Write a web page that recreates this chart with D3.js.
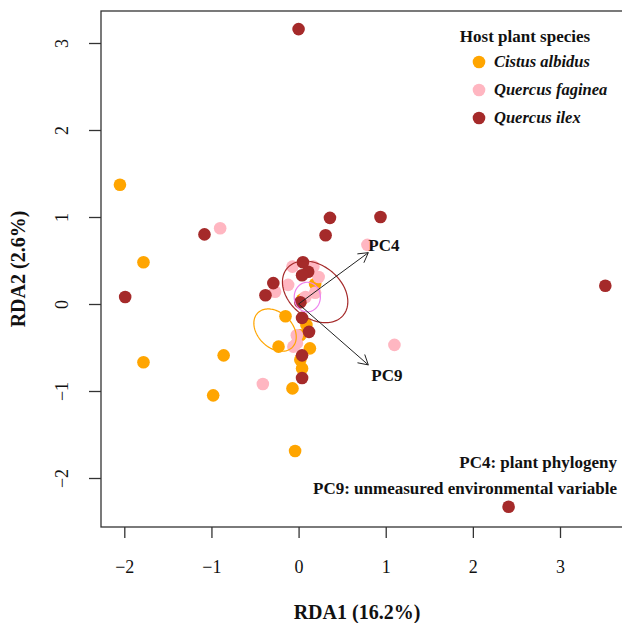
<!DOCTYPE html>
<html>
<head>
<meta charset="utf-8">
<script src="https://cdn.jsdelivr.net/npm/d3@7"></script>
<style>
  body { margin: 0; background: #fff; }
  svg { display: block; font-family: "Liberation Serif", "Times New Roman", serif; }
</style>
</head>
<body>
<svg id="chart" width="622" height="623"></svg>
<script>
// RDA biplot - host plant species

const species = ["Cistus albidus", "Quercus faginea", "Quercus ilex"];
const speciesColors = ["#FFA500", "#FFB6C1", "#A52A2A"];
const ellipseColors = ["#FFA500", "#EE82EE", "#A52A2A"];

const xTicks = [-2, -1, 0, 1, 2, 3];
const yTicks = [-2, -1, 0, 1, 2, 3];

// site scores, one array per species [RDA1, RDA2]
const cistusPoints = [
    [-2.05, 1.37], [-1.78, 0.48], [-1.78, -0.67], [-0.86, -0.59], [-0.98, -1.05],
    [-0.04, -1.69], [-0.07, -0.97], [-0.23, -0.49], [-0.15, -0.14], [0.13, -0.51],
    [0.04, -0.74], [0.02, -0.64], [0.04, 0.05], [0.19, 0.23], [0.02, -0.36],
    [0.09, -0.24]
];
const faginePoints = [
    [-0.90, 0.87], [-0.41, -0.92], [0.79, 0.68], [1.10, -0.47], [-0.07, 0.43],
    [0.17, 0.43], [-0.12, 0.22], [-0.27, 0.14], [0.19, 0.13], [0.08, 0.08],
    [-0.02, -0.45], [-0.06, -0.49], [0.23, 0.31], [-0.02, -0.36]
];
const ilexPoints = [
    [0.00, 3.16], [-1.99, 0.08], [-1.08, 0.80], [0.36, 0.99], [0.94, 1.00],
    [0.31, 0.79], [3.52, 0.21], [2.41, -2.33], [0.05, 0.48], [0.11, 0.37],
    [0.04, 0.33], [-0.29, 0.24], [-0.38, 0.10], [0.04, -0.16], [0.12, -0.32],
    [0.04, -0.59], [0.04, -0.85], [0.02, 0.02]
];

// ordiellipse per species: centre x, centre y, semi axis a, semi axis b, angle (deg)
const ellipseCx = [-0.27, 0.10, 0.19];
const ellipseCy = [-0.30, 0.08, 0.14];
const ellipseA = [0.28, 0.17, 0.42];
const ellipseB = [0.20, 0.15, 0.30];
const ellipseAngle = [-45, 90, -40];

// constraining variables (biplot arrows)
const arrowNames = ["PC4", "PC9"];
const arrowX = [0.80, 0.80];
const arrowY = [0.59, -0.70];

const notes = ["PC4: plant phylogeny", "PC9: unmeasured environmental variable"];

const svg = d3.select("#chart");

// plot region (R draws the frame, right side goes past the image)
const box = { left: 101, top: 11, right: 640, bottom: 527 };

const x = d3.scaleLinear()
    .domain([-2, 3])
    .range([124.3, 560]);

const y = d3.scaleLinear()
    .domain([-2, 3])
    .range([478, 43]);

// frame
svg.append("rect")
    .attr("x", box.left)
    .attr("y", box.top)
    .attr("width", box.right - box.left)
    .attr("height", box.bottom - box.top)
    .attr("fill", "none")
    .attr("stroke", "#333")
    .attr("stroke-width", 1.3);

// x axis
const xAxis = svg.append("g")
    .attr("transform", `translate(0,${box.bottom})`)
    .call(d3.axisBottom(x).tickValues(xTicks).tickSize(11).tickFormat(d3.format("d")));
xAxis.select(".domain").remove();
xAxis.selectAll(".tick line").attr("stroke", "#333").attr("stroke-width", 1.3);
xAxis.selectAll(".tick text")
    .attr("y", 33)
    .attr("font-family", "Liberation Serif")
    .attr("font-size", 18)
    .attr("fill", "#111");

// y axis, labels rotated like R (las = 0)
const yAxis = svg.append("g")
    .attr("transform", `translate(${box.left},0)`)
    .call(d3.axisLeft(y).tickValues(yTicks).tickSize(12).tickFormat(d3.format("d")));
yAxis.select(".domain").remove();
yAxis.selectAll(".tick line").attr("stroke", "#333").attr("stroke-width", 1.3);
yAxis.selectAll(".tick text")
    .attr("x", null)
    .attr("dy", null)
    .attr("text-anchor", "middle")
    .attr("transform", "translate(-33,0) rotate(-90)")
    .attr("font-family", "Liberation Serif")
    .attr("font-size", 18)
    .attr("fill", "#111");

// axis titles
svg.append("text")
    .attr("x", 357)
    .attr("y", 619)
    .attr("text-anchor", "middle")
    .attr("font-weight", "bold")
    .attr("font-size", 20)
    .attr("fill", "#111")
    .text("RDA1 (16.2%)");

svg.append("text")
    .attr("transform", `translate(25,${(box.top + box.bottom) / 2}) rotate(-90)`)
    .attr("text-anchor", "middle")
    .attr("font-weight", "bold")
    .attr("font-size", 20)
    .attr("fill", "#111")
    .text("RDA2 (2.6%)");

// points
const allPoints = [cistusPoints, faginePoints, ilexPoints];
allPoints.forEach((pts, i) => {
    svg.append("g")
        .selectAll("circle")
        .data(pts)
        .join("circle")
        .attr("cx", d => x(d[0]))
        .attr("cy", d => y(d[1]))
        .attr("r", 6.3)
        .attr("fill", speciesColors[i]);
});

// ellipses
const line = d3.line().curve(d3.curveLinearClosed);
species.forEach((s, i) => {
    const th = ellipseAngle[i] * Math.PI / 180;
    const pts = d3.range(0, 2 * Math.PI, Math.PI / 60).map(t => {
        const ex = ellipseCx[i] + ellipseA[i] * Math.cos(t) * Math.cos(th) - ellipseB[i] * Math.sin(t) * Math.sin(th);
        const ey = ellipseCy[i] + ellipseA[i] * Math.cos(t) * Math.sin(th) + ellipseB[i] * Math.sin(t) * Math.cos(th);
        return [x(ex), y(ey)];
    });
    svg.append("path")
        .attr("d", line(pts))
        .attr("fill", "none")
        .attr("stroke", ellipseColors[i])
        .attr("stroke-width", 1.2);
});

// arrows
arrowNames.forEach((name, i) => {
    const x0 = x(0), y0 = y(0);
    const x1 = x(arrowX[i]), y1 = y(arrowY[i]);
    const ang = Math.atan2(y1 - y0, x1 - x0);
    const len = 11, spread = Math.PI / 6;
    svg.append("line")
        .attr("x1", x0).attr("y1", y0)
        .attr("x2", x1).attr("y2", y1)
        .attr("stroke", "#222")
        .attr("stroke-width", 1);
    svg.append("path")
        .attr("d", `M${x1 - len * Math.cos(ang - spread)},${y1 - len * Math.sin(ang - spread)}
                    L${x1},${y1}
                    L${x1 - len * Math.cos(ang + spread)},${y1 - len * Math.sin(ang + spread)}`)
        .attr("fill", "none")
        .attr("stroke", "#222")
        .attr("stroke-width", 1);
    svg.append("text")
        .attr("x", x1 + (i === 0 ? 0 : 3))
        .attr("y", y1 + (i === 0 ? -2 : 16))
        .attr("font-weight", "bold")
        .attr("font-size", 17)
        .attr("fill", "#111")
        .text(name);
});

// legend
const legend = svg.append("g");
legend.append("text")
    .attr("x", 525)
    .attr("y", 42)
    .attr("text-anchor", "middle")
    .attr("font-weight", "bold")
    .attr("font-size", 17)
    .attr("fill", "#111")
    .text("Host plant species");

species.forEach((s, i) => {
    legend.append("circle")
        .attr("cx", 479)
        .attr("cy", 62 + i * 28)
        .attr("r", 6.3)
        .attr("fill", speciesColors[i]);
    legend.append("text")
        .attr("x", 494)
        .attr("y", 67 + i * 28)
        .attr("font-weight", "bold")
        .attr("font-style", "italic")
        .attr("font-size", 16.5)
        .attr("fill", "#111")
        .text(s);
});

// notes bottom right
notes.forEach((n, i) => {
    svg.append("text")
        .attr("x", 617)
        .attr("y", 468 + i * 26)
        .attr("text-anchor", "end")
        .attr("font-weight", "bold")
        .attr("font-size", 17)
        .attr("fill", "#111")
        .text(n);
});
</script>
</body>
</html>
